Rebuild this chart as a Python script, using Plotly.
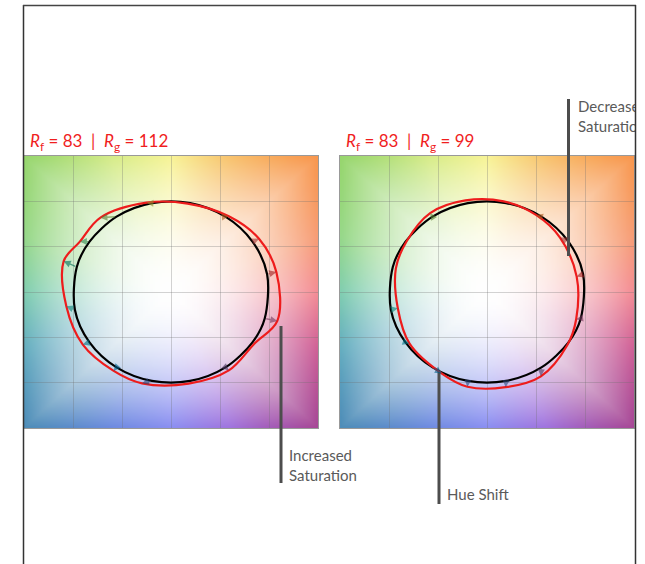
import numpy as np
import zlib, struct, base64
import plotly.graph_objects as go

W, H = 645, 564

# ---------------- data ----------------
hue_bins = list(range(1, 17))
# hue angle (deg) of the reference point of each hue bin (unit circle)
ref_hue_deg = [11.25, 33.75, 56.25, 78.75, 101.25, 123.75, 146.25, 164.0,
               191.25, 213.75, 236.25, 258.75, 281.25, 303.75, 326.25, 343.0]

# test-source (red) points, left panel  (Rf = 83, Rg = 112)
left_test_x = [1.075, 0.898, 0.59, 0.17, -0.25, -0.72, -0.93, -1.095,
               -1.068, -0.90, -0.585, -0.296, 0.18, 0.59, 0.85, 1.085]
left_test_y = [0.22, 0.587, 0.835, 0.975, 0.985, 0.82, 0.556, 0.34,
               -0.157, -0.58, -0.87, -1.007, -1.01, -0.865, -0.57, -0.319]

# test-source (red) points, right panel (Rf = 83, Rg = 99)
right_test_x = [0.915, 0.745, 0.50, 0.17, -0.22, -0.58, -0.82, -0.93,
                -0.91, -0.79, -0.46, -0.20, 0.19, 0.55, 0.82, 0.91]
right_test_y = [0.17, 0.60, 0.85, 1.00, 1.01, 0.87, 0.56, 0.26,
                -0.18, -0.57, -0.90, -1.045, -1.05, -0.93, -0.585, -0.30]

bin_colors = ["#e62828", "#e74b4b", "#fb812e", "#ffb529", "#cbca46", "#7eb94c",
              "#41c06d", "#009c7c", "#16bcb0", "#00a4bf", "#0085c3", "#3b62aa",
              "#4568ae", "#6a4e85", "#9d69a1", "#a74f81"]

panel_titles = ["<i>R</i><sub>f</sub> = 83  |  <i>R</i><sub>g</sub> = 112",
                "<i>R</i><sub>f</sub> = 83  |  <i>R</i><sub>g</sub> = 99"]
callout_texts = ["Increased<br>Saturation", "Hue Shift", "Decreased<br>Saturation"]

axis_range = [-1.5, 1.5]
grid_step = 0.5

# background colour wheel (edge colours by hue angle)
edge_angle = [0, 22.5, 45, 67.5, 90, 112.5, 135, 157.5, 180, 202.5, 225, 247.5,
              270, 292.5, 315, 337.5]
edge_rgb = [(244, 140, 148), (247, 156, 116), (248, 150, 76), (248, 194, 108),
            (248, 244, 150), (214, 236, 136), (150, 214, 108), (150, 216, 136),
            (128, 206, 176), (100, 174, 192), (76, 140, 184), (108, 138, 224),
            (138, 142, 242), (160, 114, 222), (166, 70, 150), (208, 96, 150)]


# ---------------- helpers ----------------
def png_uri(rgb):
    h, w, _ = rgb.shape
    raw = b"".join(b"\x00" + rgb[i].tobytes() for i in range(h))

    def chunk(t, d):
        c = struct.pack(">I", len(d)) + t + d
        return c + struct.pack(">I", zlib.crc32(t + d) & 0xFFFFFFFF)

    png = (b"\x89PNG\r\n\x1a\n"
           + chunk(b"IHDR", struct.pack(">IIBBBBB", w, h, 8, 2, 0, 0, 0))
           + chunk(b"IDAT", zlib.compress(raw, 9))
           + chunk(b"IEND", b""))
    return "data:image/png;base64," + base64.b64encode(png).decode()


def wheel_image(n=120, gamma=1.9):
    c = axis_range[0] + (np.arange(n) + 0.5) * (axis_range[1] - axis_range[0]) / n
    X, Y = np.meshgrid(c, c[::-1])
    th = np.degrees(np.arctan2(Y, X)) % 360
    r = np.hypot(X, Y)
    redge = axis_range[1] / np.maximum(np.abs(np.cos(np.radians(th))),
                                        np.abs(np.sin(np.radians(th))))
    s = np.clip(r / redge, 0, 1) ** gamma
    angs = list(edge_angle) + [360]
    out = np.zeros((n, n, 3))
    for k in range(3):
        vals = [e[k] for e in edge_rgb] + [edge_rgb[0][k]]
        ec = np.interp(th, angs, vals)
        out[..., k] = 255 + (ec - 255) * s
    return np.clip(out, 0, 255).astype(np.uint8)


def arrow_rgba(hexc, a, dark=0.7):
    hexc = hexc.lstrip("#")
    r, g, b = (int(hexc[0:2], 16), int(hexc[2:4], 16), int(hexc[4:6], 16))
    return "rgba(%d,%d,%d,%.2f)" % (r * dark, g * dark, b * dark, a)


# ---------------- figure ----------------
fig = go.Figure()
bg_uri = png_uri(wheel_image())

ref_x = list(np.cos(np.radians(ref_hue_deg)))
ref_y = list(np.sin(np.radians(ref_hue_deg)))

panels = [("x", "y", left_test_x, left_test_y), ("x2", "y2", right_test_x, right_test_y)]
annotations = []
images = []
for xa, ya, tx, ty in panels:
    images.append(dict(source=bg_uri, xref=xa, yref=ya, x=axis_range[0], y=axis_range[1],
                       sizex=axis_range[1] - axis_range[0], sizey=axis_range[1] - axis_range[0],
                       sizing="stretch", xanchor="left", yanchor="top", layer="below"))
    fig.add_trace(go.Scatter(x=ref_x + ref_x[:1], y=ref_y + ref_y[:1], mode="lines",
                             line=dict(color="black", width=2.2, shape="spline", smoothing=0.9),
                             xaxis=xa, yaxis=ya, hoverinfo="skip", showlegend=False))
    fig.add_trace(go.Scatter(x=list(tx) + [tx[0]], y=list(ty) + [ty[0]], mode="lines",
                             line=dict(color="#ee1c1c", width=2.2, shape="spline", smoothing=1.0),
                             xaxis=xa, yaxis=ya, hoverinfo="skip", showlegend=False))
    for i in range(len(hue_bins)):
        annotations.append(dict(x=tx[i], y=ty[i], ax=ref_x[i], ay=ref_y[i],
                                xref=xa, yref=ya, axref=xa, ayref=ya, text="",
                                showarrow=True, arrowhead=2, arrowsize=1, arrowwidth=1.4,
                                standoff=0, arrowcolor=arrow_rgba(bin_colors[i], 0.6)))

# titles
title_font = dict(family="Lato", size=17, color="#f01e1e")
annotations.append(dict(text=panel_titles[0], x=28 / W, y=1 - 142 / H, xref="paper", yref="paper",
                        xanchor="left", yanchor="middle", showarrow=False, font=title_font))
annotations.append(dict(text=panel_titles[1], x=344 / W, y=1 - 142 / H, xref="paper", yref="paper",
                        xanchor="left", yanchor="middle", showarrow=False, font=title_font))

# callout labels (overlay pixel-axis so the right-hand label is clipped at the frame)
fig.add_trace(go.Scatter(x=[289, 447, 578], y=[467, 496, 118], mode="text",
                         text=callout_texts, textposition="middle right",
                         textfont=dict(family="Lato", size=15, color="#5a5a5a"),
                         xaxis="x3", yaxis="y3", cliponaxis=True, hoverinfo="skip",
                         showlegend=False))

line_col = "#4d4d4d"
shapes = [
    dict(type="line", xref="x3", yref="y3", x0=281, x1=281, y0=326, y1=483,
         line=dict(color=line_col, width=3), layer="above"),
    dict(type="line", xref="x3", yref="y3", x0=439, x1=439, y0=372, y1=504,
         line=dict(color=line_col, width=3), layer="above"),
    dict(type="line", xref="x3", yref="y3", x0=568.5, x1=568.5, y0=99, y1=256,
         line=dict(color=line_col, width=3), layer="above"),
    # outer frame
    dict(type="line", xref="paper", yref="paper", x0=23.5 / W, x1=23.5 / W, y0=1 - 5 / H, y1=0,
         line=dict(color="#333333", width=1.5), layer="above"),
    dict(type="line", xref="paper", yref="paper", x0=23 / W, x1=636 / W, y0=1 - 5.5 / H, y1=1 - 5.5 / H,
         line=dict(color="#444444", width=1.5), layer="above"),
    dict(type="line", xref="paper", yref="paper", x0=635.5 / W, x1=635.5 / W, y0=1 - 5 / H, y1=0,
         line=dict(color="#333333", width=1.5), layer="above"),
]

ax_common = dict(range=axis_range, autorange=False, showgrid=True, dtick=grid_step, tick0=0,
                 gridcolor="rgba(110,110,110,0.30)", gridwidth=1, zeroline=False,
                 showticklabels=False, ticks="", showline=True, mirror=True,
                 linecolor="#999999", linewidth=1, fixedrange=True)

py0, py1 = 1 - 428 / H, 1 - 156 / H
fig.update_layout(
    width=W, height=H, margin=dict(l=0, r=0, t=0, b=0),
    paper_bgcolor="white", plot_bgcolor="rgba(0,0,0,0)",
    xaxis=dict(domain=[24 / W, 318 / W], anchor="y", **ax_common),
    yaxis=dict(domain=[py0, py1], anchor="x", **ax_common),
    xaxis2=dict(domain=[340 / W, 634 / W], anchor="y2", **ax_common),
    yaxis2=dict(domain=[py0, py1], anchor="x2", **ax_common),
    xaxis3=dict(domain=[0, 635 / W], range=[0, 635], anchor="y3", visible=False, fixedrange=True),
    yaxis3=dict(domain=[0, 1], range=[H, 0], anchor="x3", visible=False, fixedrange=True),
    annotations=annotations, shapes=shapes, images=images,
)

fig.write_html("out.html")
